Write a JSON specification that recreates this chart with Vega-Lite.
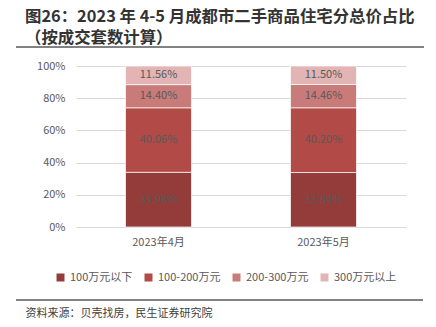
{
  "$schema": "https://vega.github.io/schema/vega-lite/v6.json",
  "width": 330,
  "height": 161,
  "autosize": "none",
  "padding": {"left": 76, "top": 66, "right": 30, "bottom": 100},
  "background": "white",
  "config": {
    "font": "Noto Sans CJK SC",
    "view": {"stroke": null},
    "axisY": {"labelOverlap": false, "labelBound": false}
  },
  "title": {
    "text": ["图26：2023 年 4-5 月成都市二手商品住宅分总价占比", "（按成交套数计算）"],
    "anchor": "start",
    "frame": "group",
    "dx": -51,
    "offset": 0,
    "fontSize": 16.4,
    "fontWeight": "bold",
    "color": "#333333",
    "lineHeight": 21,
    "font": "Noto Sans CJK SC"
  },
  "data": {
    "values": [
      {"month": "2023年4月", "cat": "100万元以下", "ord": 1, "value": 0.3398},
      {"month": "2023年4月", "cat": "100-200万元", "ord": 2, "value": 0.4006},
      {"month": "2023年4月", "cat": "200-300万元", "ord": 3, "value": 0.1440},
      {"month": "2023年4月", "cat": "300万元以上", "ord": 4, "value": 0.1156},
      {"month": "2023年5月", "cat": "100万元以下", "ord": 1, "value": 0.3384},
      {"month": "2023年5月", "cat": "100-200万元", "ord": 2, "value": 0.4020},
      {"month": "2023年5月", "cat": "200-300万元", "ord": 3, "value": 0.1446},
      {"month": "2023年5月", "cat": "300万元以上", "ord": 4, "value": 0.1150}
    ]
  },
  "layer": [
    {
      "mark": {"type": "bar", "stroke": "white", "strokeWidth": 0.7, "width": 66},
      "encoding": {
        "x": {
          "field": "month", "type": "nominal", "sort": ["2023年4月", "2023年5月"],
          "scale": {"paddingInner": 0, "paddingOuter": 0},
          "axis": {
            "title": "资料来源：贝壳找房，民生证券研究院",
            "titleX": -51, "titleY": 86, "titleAlign": "left", "titleBaseline": "middle", "titleAnchor": null,
            "titleFontWeight": "normal", "titleFontSize": 11, "titleColor": "#404040",
            "labelAngle": 0, "domain": false, "ticks": false, "labelPadding": 9,
            "labelFontSize": 11, "labelColor": "#595959"
          }
        },
        "y": {
          "field": "value", "type": "quantitative", "stack": "zero",
          "scale": {"domain": [0, 1], "nice": false},
          "axis": {
            "title": null, "values": [0, 0.2, 0.4, 0.6, 0.8, 1], "format": ".0%",
            "grid": true, "gridColor": "#d9d9d9", "domain": false, "ticks": false,
            "labelOverlap": false, "labelBound": false,
            "labelPadding": 11, "labelFontSize": 11, "labelColor": "#595959"
          }
        },
        "color": {
          "field": "cat", "type": "nominal",
          "scale": {
            "domain": ["100万元以下", "100-200万元", "200-300万元", "300万元以上"],
            "range": ["#943c3a", "#b24a47", "#c97b79", "#e2b5b4"]
          },
          "legend": {
            "orient": "none", "legendX": -21, "legendY": 206, "direction": "horizontal",
            "title": null, "symbolType": "square", "symbolSize": 64, "symbolStrokeWidth": 0,
            "gridAlign": "none",
            "labelFontSize": 11, "labelColor": "#595959", "columnPadding": 10
          }
        },
        "order": {"field": "ord", "type": "quantitative"}
      }
    },
    {
      "transform": [
        {"stack": "value", "groupby": ["month"], "sort": [{"field": "ord", "order": "ascending"}], "as": ["v0", "v1"]},
        {"calculate": "(datum.v0 + datum.v1) / 2", "as": "mid"}
      ],
      "mark": {"type": "text", "fontSize": 11, "color": "#595959"},
      "encoding": {
        "x": {"field": "month", "type": "nominal", "sort": ["2023年4月", "2023年5月"]},
        "y": {
          "field": "mid", "type": "quantitative",
          "axis": {
            "title": null, "values": [0, 0.2, 0.4, 0.6, 0.8, 1], "format": ".0%",
            "grid": true, "gridColor": "#d9d9d9", "domain": false, "ticks": false,
            "labelOverlap": false, "labelBound": false,
            "labelPadding": 11, "labelFontSize": 11, "labelColor": "#595959"
          }
        },
        "text": {"field": "value", "type": "quantitative", "format": ".2%"}
      }
    },
    {
      "data": {"values": [{}]},
      "mark": {"type": "rule", "color": "#595959", "strokeWidth": 1.5},
      "encoding": {"x": {"value": -60}, "x2": {"value": 348}, "y": {"value": -19}}
    },
    {
      "data": {"values": [{}]},
      "mark": {"type": "rule", "color": "#595959", "strokeWidth": 1.5},
      "encoding": {"x": {"value": -60}, "x2": {"value": 347}, "y": {"value": 234}}
    }
  ]
}
